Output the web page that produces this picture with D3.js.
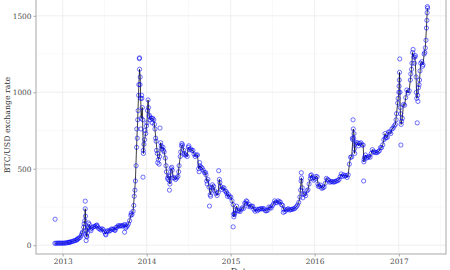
<!DOCTYPE html>
<html>
<head>
<meta charset="utf-8">
<script src="https://cdn.jsdelivr.net/npm/d3@7"></script>
<style>
  body { margin: 0; background: #fff; }
  text { font-family: "DejaVu Serif", serif; }
</style>
</head>
<body>
<div id="chart"></div>
<script>
// daily-ish closing rate, sampled roughly every 5 days
const btc = [
  ["2012-11-28", 12.3], ["2012-12-03", 12.7], ["2012-12-08", 13.3], ["2012-12-13", 13.6], ["2012-12-18", 13.3],
  ["2012-12-23", 13.4], ["2012-12-28", 13.4], ["2013-01-02", 13.4], ["2013-01-07", 13.7], ["2013-01-12", 14.2],
  ["2013-01-17", 15.5], ["2013-01-22", 17.5], ["2013-01-27", 18], ["2013-02-01", 20], ["2013-02-06", 21.5],
  ["2013-02-11", 24.5], ["2013-02-16", 27], ["2013-02-21", 29.5], ["2013-02-26", 31], ["2013-03-03", 34],
  ["2013-03-08", 43], ["2013-03-13", 47], ["2013-03-18", 51], ["2013-03-23", 64], ["2013-03-28", 86],
  ["2013-04-02", 118], ["2013-04-07", 160], ["2013-04-09", 238], ["2013-04-12", 95], ["2013-04-16", 55],
  ["2013-04-19", 110], ["2013-04-22", 120], ["2013-04-27", 135], ["2013-05-02", 105], ["2013-05-07", 112],
  ["2013-05-12", 117], ["2013-05-17", 123], ["2013-05-22", 123], ["2013-05-27", 130], ["2013-06-01", 122],
  ["2013-06-06", 110], ["2013-06-11", 106], ["2013-06-16", 100], ["2013-06-21", 108], ["2013-06-26", 102],
  ["2013-07-01", 88], ["2013-07-06", 72], ["2013-07-11", 88], ["2013-07-16", 96], ["2013-07-21", 91],
  ["2013-07-26", 95], ["2013-07-31", 105], ["2013-08-05", 105], ["2013-08-10", 104], ["2013-08-15", 99],
  ["2013-08-20", 115], ["2013-08-25", 118], ["2013-08-30", 128], ["2013-09-04", 125], ["2013-09-09", 128],
  ["2013-09-14", 126], ["2013-09-19", 126], ["2013-09-24", 133], ["2013-09-29", 134], ["2013-10-04", 120],
  ["2013-10-09", 126], ["2013-10-14", 140], ["2013-10-19", 160], ["2013-10-24", 195], ["2013-10-29", 200],
  ["2013-11-03", 222], ["2013-11-08", 320], ["2013-11-13", 420], ["2013-11-18", 640], ["2013-11-23", 820],
  ["2013-11-28", 1050], ["2013-12-01", 1150], ["2013-12-04", 1100], ["2013-12-08", 830], ["2013-12-13", 900],
  ["2013-12-18", 600], ["2013-12-23", 690], ["2013-12-28", 730], ["2014-01-02", 800], ["2014-01-07", 950],
  ["2014-01-12", 850], ["2014-01-17", 820], ["2014-01-22", 830], ["2014-01-27", 830], ["2014-02-01", 820],
  ["2014-02-06", 760], ["2014-02-11", 680], ["2014-02-16", 600], ["2014-02-21", 560], ["2014-02-26", 580],
  ["2014-03-03", 670], ["2014-03-08", 630], ["2014-03-13", 640], ["2014-03-18", 610], ["2014-03-23", 570],
  ["2014-03-28", 480], ["2014-04-02", 440], ["2014-04-07", 450], ["2014-04-12", 400], ["2014-04-17", 500],
  ["2014-04-22", 490], ["2014-04-27", 440], ["2014-05-02", 440], ["2014-05-07", 430], ["2014-05-12", 440],
  ["2014-05-17", 450], ["2014-05-22", 520], ["2014-05-27", 580], ["2014-06-01", 650], ["2014-06-06", 655],
  ["2014-06-11", 620], ["2014-06-16", 590], ["2014-06-21", 590], ["2014-06-26", 580], ["2014-07-01", 640],
  ["2014-07-06", 625], ["2014-07-11", 630], ["2014-07-16", 620], ["2014-07-21", 620], ["2014-07-26", 595],
  ["2014-07-31", 580], ["2014-08-05", 590], ["2014-08-10", 590], ["2014-08-15", 500], ["2014-08-20", 520],
  ["2014-08-25", 510], ["2014-08-30", 505], ["2014-09-04", 490], ["2014-09-09", 475], ["2014-09-14", 475],
  ["2014-09-19", 420], ["2014-09-24", 430], ["2014-09-29", 380], ["2014-10-04", 330], ["2014-10-09", 360],
  ["2014-10-14", 395], ["2014-10-19", 385], ["2014-10-24", 355], ["2014-10-29", 340], ["2014-11-03", 325],
  ["2014-11-08", 345], ["2014-11-13", 430], ["2014-11-18", 385], ["2014-11-23", 365], ["2014-11-28", 375],
  ["2014-12-03", 375], ["2014-12-08", 355], ["2014-12-13", 350], ["2014-12-18", 320], ["2014-12-23", 330],
  ["2014-12-28", 315], ["2015-01-02", 315], ["2015-01-07", 290], ["2015-01-12", 265], ["2015-01-15", 185],
  ["2015-01-19", 210], ["2015-01-22", 230], ["2015-01-27", 255], ["2015-02-01", 225], ["2015-02-06", 225],
  ["2015-02-11", 220], ["2015-02-16", 235], ["2015-02-21", 245], ["2015-02-26", 240], ["2015-03-03", 275],
  ["2015-03-08", 275], ["2015-03-13", 285], ["2015-03-18", 255], ["2015-03-23", 265], ["2015-03-28", 250],
  ["2015-04-02", 255], ["2015-04-07", 255], ["2015-04-12", 235], ["2015-04-17", 222], ["2015-04-22", 235],
  ["2015-04-27", 225], ["2015-05-02", 235], ["2015-05-07", 235], ["2015-05-12", 240], ["2015-05-17", 237],
  ["2015-05-22", 240], ["2015-05-27", 237], ["2015-06-01", 225], ["2015-06-06", 225], ["2015-06-11", 229],
  ["2015-06-16", 250], ["2015-06-21", 245], ["2015-06-26", 243], ["2015-07-01", 258], ["2015-07-06", 270],
  ["2015-07-11", 290], ["2015-07-16", 280], ["2015-07-21", 278], ["2015-07-26", 290], ["2015-07-31", 284],
  ["2015-08-05", 282], ["2015-08-10", 265], ["2015-08-15", 260], ["2015-08-20", 235], ["2015-08-25", 220],
  ["2015-08-30", 230], ["2015-09-04", 235], ["2015-09-09", 238], ["2015-09-14", 230], ["2015-09-19", 232],
  ["2015-09-24", 234], ["2015-09-29", 237], ["2015-10-04", 238], ["2015-10-09", 244], ["2015-10-14", 253],
  ["2015-10-19", 263], ["2015-10-24", 280], ["2015-10-29", 315], ["2015-11-03", 420], ["2015-11-05", 440],
  ["2015-11-08", 375], ["2015-11-13", 335], ["2015-11-18", 335], ["2015-11-23", 324], ["2015-11-28", 355],
  ["2015-12-03", 362], ["2015-12-08", 400], ["2015-12-13", 435], ["2015-12-18", 460], ["2015-12-23", 440],
  ["2015-12-28", 425], ["2016-01-02", 433], ["2016-01-07", 450], ["2016-01-12", 447], ["2016-01-17", 385],
  ["2016-01-22", 385], ["2016-01-27", 393], ["2016-02-01", 372], ["2016-02-06", 375], ["2016-02-11", 380],
  ["2016-02-16", 405], ["2016-02-21", 437], ["2016-02-26", 430], ["2016-03-02", 425], ["2016-03-07", 412],
  ["2016-03-12", 415], ["2016-03-17", 417], ["2016-03-22", 412], ["2016-03-27", 415], ["2016-04-01", 416],
  ["2016-04-06", 422], ["2016-04-11", 422], ["2016-04-16", 430], ["2016-04-21", 448], ["2016-04-26", 466],
  ["2016-05-01", 450], ["2016-05-06", 460], ["2016-05-11", 452], ["2016-05-16", 456], ["2016-05-21", 443],
  ["2016-05-26", 460], ["2016-05-31", 530], ["2016-06-05", 575], ["2016-06-10", 577], ["2016-06-15", 690],
  ["2016-06-17", 760], ["2016-06-20", 730], ["2016-06-23", 600], ["2016-06-25", 660], ["2016-06-30", 670],
  ["2016-07-05", 670], ["2016-07-10", 650], ["2016-07-15", 665], ["2016-07-20", 670], ["2016-07-25", 655],
  ["2016-07-30", 655], ["2016-08-02", 545], ["2016-08-05", 575], ["2016-08-09", 590], ["2016-08-14", 570],
  ["2016-08-19", 575], ["2016-08-24", 580], ["2016-08-29", 575], ["2016-09-03", 600], ["2016-09-08", 625],
  ["2016-09-13", 610], ["2016-09-18", 610], ["2016-09-23", 605], ["2016-09-28", 605], ["2016-10-03", 612],
  ["2016-10-08", 617], ["2016-10-13", 638], ["2016-10-18", 638], ["2016-10-23", 657], ["2016-10-28", 690],
  ["2016-11-02", 730], ["2016-11-07", 705], ["2016-11-12", 705], ["2016-11-17", 740], ["2016-11-22", 740],
  ["2016-11-27", 730], ["2016-12-02", 760], ["2016-12-07", 765], ["2016-12-12", 780], ["2016-12-17", 790],
  ["2016-12-22", 860], ["2016-12-27", 930], ["2017-01-01", 1000], ["2017-01-04", 1130], ["2017-01-07", 900],
  ["2017-01-11", 790], ["2017-01-16", 830], ["2017-01-21", 920], ["2017-01-26", 915], ["2017-01-31", 965],
  ["2017-02-05", 1015], ["2017-02-10", 995], ["2017-02-15", 1010], ["2017-02-20", 1080], ["2017-02-25", 1150],
  ["2017-03-02", 1260], ["2017-03-07", 1230], ["2017-03-12", 1230], ["2017-03-17", 1100], ["2017-03-20", 960],
  ["2017-03-24", 980], ["2017-03-27", 1030], ["2017-04-01", 1080], ["2017-04-06", 1190], ["2017-04-11", 1200],
  ["2017-04-16", 1180], ["2017-04-21", 1250], ["2017-04-26", 1290], ["2017-05-01", 1420], ["2017-05-04", 1520],
  ["2017-05-06", 1550]
];

// quotes from other days, scattered round the line
const quotes = [
  ["2012-11-29", 170], ["2013-01-30", 19], ["2013-03-05", 38], ["2013-03-26", 76], ["2013-04-04", 140],
  ["2013-04-09", 288], ["2013-04-10", 190], ["2013-04-13", 30], ["2013-04-15", 60], ["2013-04-18", 80],
  ["2013-04-24", 145], ["2013-05-04", 95], ["2013-05-30", 132], ["2013-07-08", 68], ["2013-08-17", 97],
  ["2013-09-27", 85], ["2013-10-02", 112], ["2013-10-26", 210], ["2013-11-06", 260], ["2013-11-11", 360],
  ["2013-11-16", 520], ["2013-11-19", 760], ["2013-11-21", 700], ["2013-11-25", 880], ["2013-11-27", 980],
  ["2013-11-30", 1220], ["2013-12-01", 1225], ["2013-12-03", 1050], ["2013-12-06", 960], ["2013-12-07", 760],
  ["2013-12-10", 980], ["2013-12-11", 960], ["2013-12-15", 820], ["2013-12-16", 445], ["2013-12-17", 620],
  ["2013-12-20", 660], ["2013-12-25", 750], ["2013-12-31", 780], ["2014-01-05", 880], ["2014-01-09", 900],
  ["2014-01-14", 840], ["2014-01-25", 800], ["2014-02-04", 790], ["2014-02-09", 700], ["2014-02-13", 620],
  ["2014-02-18", 540], ["2014-02-24", 530], ["2014-02-28", 766], ["2014-03-05", 650], ["2014-03-15", 620],
  ["2014-03-26", 520], ["2014-04-04", 430], ["2014-04-10", 360], ["2014-04-11", 420], ["2014-04-14", 460],
  ["2014-04-20", 510], ["2014-05-20", 480], ["2014-05-29", 610], ["2014-06-03", 665], ["2014-06-13", 600],
  ["2014-07-03", 650], ["2014-08-17", 480], ["2014-08-19", 540], ["2014-09-16", 460], ["2014-09-21", 400],
  ["2014-10-01", 256], ["2014-10-06", 320], ["2014-10-11", 375], ["2014-11-10", 487], ["2014-11-15", 410],
  ["2014-12-15", 340], ["2015-01-12", 120], ["2015-01-14", 205], ["2015-01-17", 200], ["2015-03-10", 290],
  ["2015-08-18", 215], ["2015-11-01", 360], ["2015-11-04", 474], ["2015-11-11", 310], ["2015-12-15", 455],
  ["2016-01-15", 400], ["2016-06-13", 700], ["2016-06-16", 820], ["2016-06-19", 700], ["2016-06-22", 630],
  ["2016-08-01", 420], ["2016-08-03", 560], ["2016-11-03", 700], ["2016-12-20", 820], ["2016-12-29", 960],
  ["2017-01-02", 1040], ["2017-01-03", 1080], ["2017-01-05", 1218], ["2017-01-06", 1000], ["2017-01-09", 860],
  ["2017-01-10", 655], ["2017-01-13", 810], ["2017-02-22", 1120], ["2017-02-27", 1190], ["2017-03-04", 1280],
  ["2017-03-10", 1190], ["2017-03-14", 1240], ["2017-03-18", 1000], ["2017-03-22", 800], ["2017-03-25", 940],
  ["2017-03-30", 1050], ["2017-04-03", 1140], ["2017-04-14", 1170], ["2017-04-24", 1260], ["2017-04-29", 1340],
  ["2017-05-03", 1470], ["2017-05-05", 1560]
];

const yTicks = [0, 500, 1000, 1500];
const yMinor = [250, 750, 1250];
const xTickYears = [2013, 2014, 2015, 2016, 2017];

const width = 450, height = 270;
const parse = d3.timeParse("%Y-%m-%d");

const svg = d3.select("#chart").append("svg")
  .attr("width", width)
  .attr("height", height);

const x = d3.scaleTime()
  .domain([parse("2012-09-07"), parse("2017-07-25")])
  .range([36, 446]);

const y = d3.scaleLinear()
  .domain([-57.5, 1629.5])
  .range([254, -4]);

// grid
const xMajor = xTickYears.map(yr => new Date(yr, 0, 1));
const xMinor = xTickYears.map(yr => new Date(yr, 6, 2));

svg.append("g").selectAll("line").data(yMinor).join("line")
  .attr("x1", 36).attr("x2", 446)
  .attr("y1", d => y(d)).attr("y2", d => y(d))
  .attr("stroke", "#f2f2f2").attr("stroke-width", 0.5);
svg.append("g").selectAll("line").data(xMinor).join("line")
  .attr("x1", d => x(d)).attr("x2", d => x(d))
  .attr("y1", -4).attr("y2", 254)
  .attr("stroke", "#f2f2f2").attr("stroke-width", 0.5);
svg.append("g").selectAll("line").data(yTicks).join("line")
  .attr("x1", 36).attr("x2", 446)
  .attr("y1", d => y(d)).attr("y2", d => y(d))
  .attr("stroke", "#ebebeb").attr("stroke-width", 0.8);
svg.append("g").selectAll("line").data(xMajor).join("line")
  .attr("x1", d => x(d)).attr("x2", d => x(d))
  .attr("y1", -4).attr("y2", 254)
  .attr("stroke", "#ebebeb").attr("stroke-width", 0.8);

// line
const line = d3.line()
  .x(d => x(parse(d[0])))
  .y(d => y(d[1]));

svg.append("path")
  .datum(btc)
  .attr("d", line)
  .attr("fill", "none")
  .attr("stroke", "#000")
  .attr("stroke-width", 0.75);

// points
const pts = btc.concat(quotes);
svg.append("g").selectAll("circle").data(pts).join("circle")
  .attr("cx", d => x(parse(d[0])))
  .attr("cy", d => y(d[1]))
  .attr("r", 2.1)
  .attr("fill", "none")
  .attr("stroke", "#0000ff")
  .attr("stroke-opacity", 0.7)
  .attr("stroke-width", 0.8);

// panel border
svg.append("rect")
  .attr("x", 36).attr("y", -4)
  .attr("width", 410).attr("height", 258)
  .attr("fill", "none")
  .attr("stroke", "#a8a8a8")
  .attr("stroke-width", 1);

// axes
const xAxis = svg.append("g")
  .attr("transform", "translate(0,254)")
  .call(d3.axisBottom(x).tickValues(xMajor).tickFormat(d3.timeFormat("%Y")).tickSize(2.5).tickPadding(2));
const yAxis = svg.append("g")
  .attr("transform", "translate(36,0)")
  .call(d3.axisLeft(y).tickValues(yTicks).tickFormat(d3.format("d")).tickSize(2.5).tickPadding(2));

[xAxis, yAxis].forEach(g => {
  g.select(".domain").remove();
  g.selectAll(".tick line").attr("stroke", "#a8a8a8");
  g.selectAll(".tick text")
    .attr("fill", "#4d4d4d")
    .style("font-family", "DejaVu Serif")
    .style("font-size", "7.4px");
});

// titles
svg.append("text")
  .attr("x", 241).attr("y", 275)
  .attr("text-anchor", "middle")
  .attr("fill", "#333")
  .style("font-size", "8.5px")
  .text("Date");

svg.append("text")
  .attr("transform", "translate(10,125) rotate(-90)")
  .attr("text-anchor", "middle")
  .attr("fill", "#333")
  .style("font-size", "7.8px")
  .text("BTC/USD exchange rate");
</script>
</body>
</html>
